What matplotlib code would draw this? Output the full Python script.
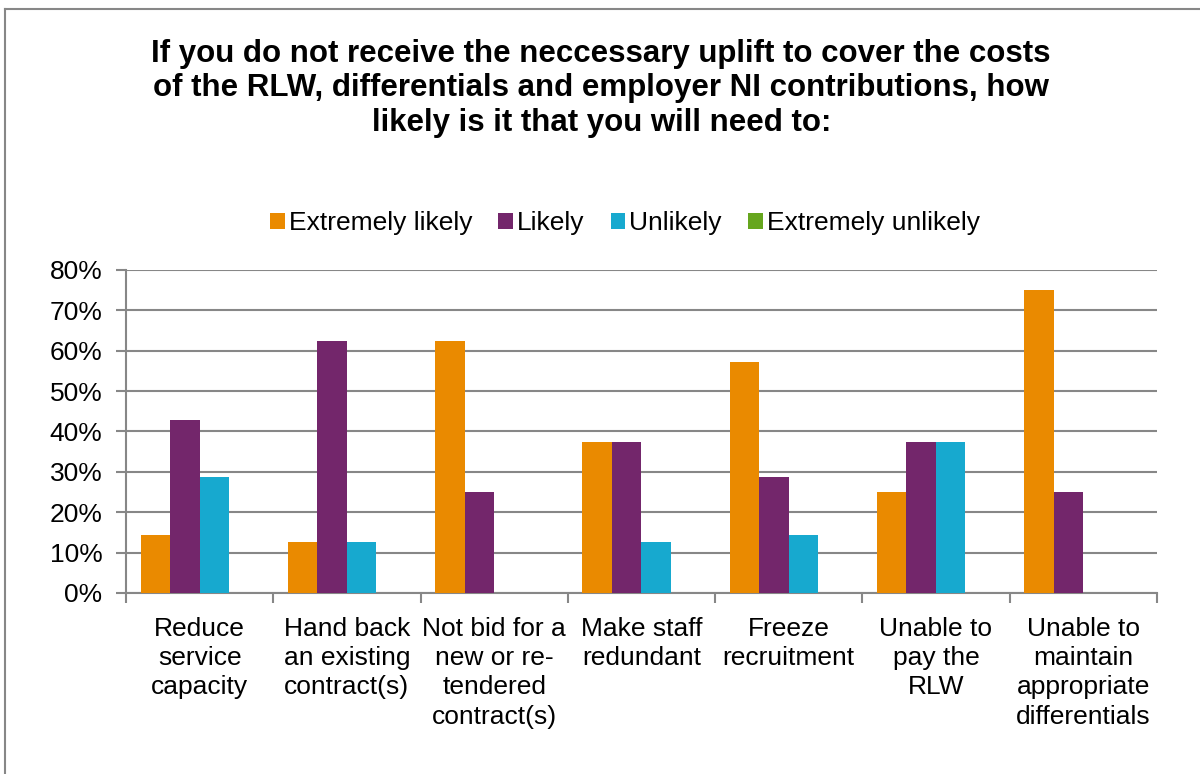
import matplotlib
matplotlib.use("Agg")
import matplotlib.pyplot as plt
import numpy as np
from matplotlib.lines import Line2D

plt.rcParams['font.family'] = ['Liberation Sans', 'DejaVu Sans']

categories = ["Reduce\nservice\ncapacity", "Hand back\nan existing\ncontract(s)",
              "Not bid for a\nnew or re-\ntendered\ncontract(s)", "Make staff\nredundant",
              "Freeze\nrecruitment", "Unable to\npay the\nRLW",
              "Unable to\nmaintain\nappropriate\ndifferentials"]
series_names = ["Extremely likely", "Likely", "Unlikely", "Extremely unlikely"]
extremely_likely = [14.3, 12.5, 62.5, 37.5, 57.1, 25.0, 75.0]
likely = [42.9, 62.5, 25.0, 37.5, 28.6, 37.5, 25.0]
unlikely = [28.6, 12.5, 0.0, 12.5, 14.3, 37.5, 0.0]
extremely_unlikely = [0.0, 0.0, 0.0, 0.0, 0.0, 0.0, 0.0]
yticks = [0, 10, 20, 30, 40, 50, 60, 70, 80]
title = ("If you do not receive the neccessary uplift to cover the costs\n"
         "of the RLW, differentials and employer NI contributions, how\n"
         "likely is it that you will need to:")

colors = ["#EA8A00", "#73266B", "#17A9CF", "#66A61E"]
series = [extremely_likely, likely, unlikely, extremely_unlikely]

fig = plt.figure(figsize=(12, 7.74), dpi=100)
ax = fig.add_axes([0.105, 0.2339, 0.859, 0.4173])

x = np.arange(len(categories))
w = 0.2
for i, (vals, c, name) in enumerate(zip(series, colors, series_names)):
    ax.bar(x - 0.4 + w * i, vals, width=w, align='edge', color=c, label=name, zorder=3)

ax.set_xlim(-0.5, len(categories) - 0.5)
ax.set_ylim(0, 80)
ax.set_yticks(yticks)
ax.set_yticklabels([f"{v}%" for v in yticks])
ax.yaxis.grid(True, color="#878787", linewidth=1.5, zorder=0)
ax.set_xticks(np.arange(-0.5, len(categories) + 0.5, 1.0))
ax.set_xticklabels([])
ax.set_xticks(x, minor=True)
ax.set_xticklabels(categories, minor=True)
for lab in ax.get_xticklabels(minor=True):
    lab.set_linespacing(1.28)
ax.tick_params(axis='x', which='minor', length=0, pad=17, labelsize=19)
ax.tick_params(axis='x', which='major', length=7, width=1.5, color="#878787", direction='out')
ax.tick_params(axis='y', length=7, width=1.5, color="#878787", labelsize=19, pad=10)
for s in ['top', 'right']:
    ax.spines[s].set_visible(False)
for s in ['left', 'bottom']:
    ax.spines[s].set_color("#878787")
    ax.spines[s].set_linewidth(1.5)

fig.text(0.501, 0.950, title, ha='center', va='top', fontsize=22.5, fontweight='bold',
         linespacing=1.2)

leg = ax.legend(loc='center', bbox_to_anchor=(0.484, 1.145), ncol=4, frameon=False,
                fontsize=19, handlelength=0.55, handleheight=0.55, handletextpad=0.15,
                columnspacing=1.0, borderaxespad=0)

fig.add_artist(Line2D([5/1200, 5/1200], [0, 1 - 9/774], color="#878787", linewidth=1.5))
fig.add_artist(Line2D([5/1200, 1.0], [1 - 9/774, 1 - 9/774], color="#878787", linewidth=1.5))

fig.savefig("out.png", dpi=100)
